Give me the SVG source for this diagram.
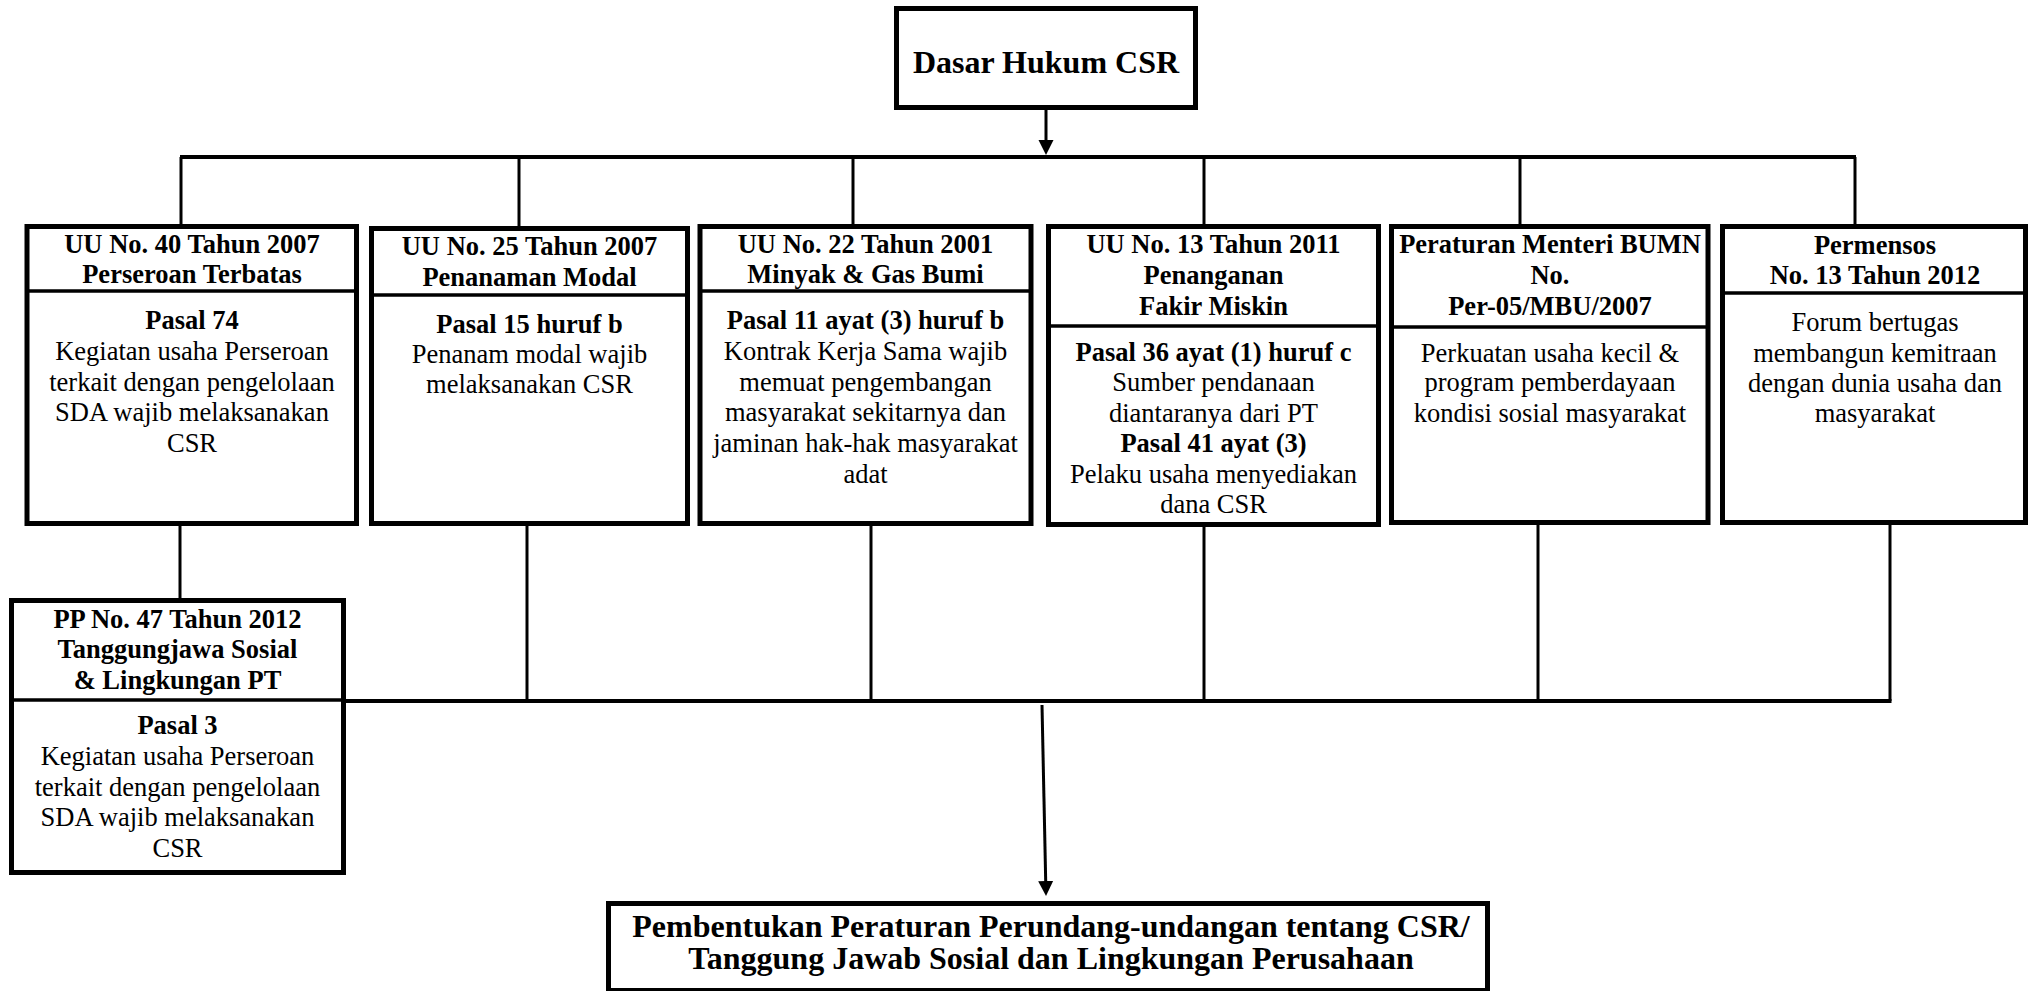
<svg xmlns="http://www.w3.org/2000/svg" width="2028" height="991" viewBox="0 0 2028 991">
<style>
.box{fill:#fff;stroke:#000;stroke-width:5}
.dv{stroke:#000;stroke-width:3.5}
.h{font-family:"Liberation Serif","Times New Roman",serif;font-weight:bold;font-size:26.5px;text-anchor:middle;fill:#000}
.t{font-family:"Liberation Serif","Times New Roman",serif;font-size:26.5px;text-anchor:middle;fill:#000}
.big{font-family:"Liberation Serif","Times New Roman",serif;font-weight:bold;font-size:32px;text-anchor:middle;fill:#000}
.c{stroke:#000;stroke-width:3;fill:none}
.bar{stroke:#000;stroke-width:4;fill:none}
</style>
<defs>
<marker id="ah" markerUnits="userSpaceOnUse" markerWidth="16" markerHeight="16" viewBox="0 0 16 16" refX="5" refY="8" orient="auto">
<path d="M0,0.5 L15,8 L0,15.5 z" fill="#000"/>
</marker>
</defs>
<rect width="2028" height="991" fill="#fff"/>

<g id="connectors">
<line class="c" x1="1046" y1="110" x2="1046" y2="145" marker-end="url(#ah)"/>
<line class="bar" x1="180" y1="157" x2="1856" y2="157"/>
<line class="c" x1="181" y1="157" x2="181" y2="226"/>
<line class="c" x1="519" y1="157" x2="519" y2="228"/>
<line class="c" x1="853" y1="157" x2="853" y2="226"/>
<line class="c" x1="1204" y1="157" x2="1204" y2="226"/>
<line class="c" x1="1520" y1="157" x2="1520" y2="226"/>
<line class="c" x1="1855" y1="157" x2="1855" y2="226"/>
<line class="c" x1="180" y1="524" x2="180" y2="600"/>
<line class="c" x1="527" y1="524" x2="527" y2="701"/>
<line class="c" x1="871" y1="524" x2="871" y2="701"/>
<line class="c" x1="1204" y1="525" x2="1204" y2="701"/>
<line class="c" x1="1538" y1="523" x2="1538" y2="701"/>
<line class="c" x1="1890" y1="523" x2="1890" y2="701"/>
<line class="bar" x1="346" y1="701" x2="1891.5" y2="701"/>
<line class="c" x1="1042" y1="705" x2="1045.8" y2="886" marker-end="url(#ah)"/>
</g>

<g id="top">
<rect class="box" x="896.5" y="8.5" width="299" height="99"/>
<text class="big" x="1046" y="73">Dasar Hukum CSR</text>
</g>

<g id="uu40">
<rect class="box" x="27" y="226.5" width="329.5" height="297"/>
<line class="dv" x1="29" y1="291" x2="356" y2="291"/>
<text class="h" x="192" y="253">UU No. 40 Tahun 2007</text>
<text class="h" x="192" y="283">Perseroan Terbatas</text>
<text class="h" x="192" y="329">Pasal 74</text>
<text class="t" x="192" y="360">Kegiatan usaha Perseroan</text>
<text class="t" x="192" y="391">terkait dengan pengelolaan</text>
<text class="t" x="192" y="421">SDA wajib melaksanakan</text>
<text class="t" x="192" y="452">CSR</text>
</g>

<g id="uu25">
<rect class="box" x="371.5" y="228.5" width="316" height="295"/>
<line class="dv" x1="374" y1="295" x2="687" y2="295"/>
<text class="h" x="529.5" y="255">UU No. 25 Tahun 2007</text>
<text class="h" x="529.5" y="286">Penanaman Modal</text>
<text class="h" x="529.5" y="333">Pasal 15 huruf b</text>
<text class="t" x="529.5" y="363">Penanam modal wajib</text>
<text class="t" x="529.5" y="393">melaksanakan CSR</text>
</g>

<g id="uu22">
<rect class="box" x="700" y="226.5" width="331" height="297"/>
<line class="dv" x1="702" y1="291" x2="1031" y2="291"/>
<text class="h" x="865.5" y="253">UU No. 22 Tahun 2001</text>
<text class="h" x="865.5" y="283">Minyak &amp; Gas Bumi</text>
<text class="h" x="865.5" y="329">Pasal 11 ayat (3) huruf b</text>
<text class="t" x="865.5" y="360">Kontrak Kerja Sama wajib</text>
<text class="t" x="865.5" y="391">memuat pengembangan</text>
<text class="t" x="865.5" y="421">masyarakat sekitarnya dan</text>
<text class="t" x="865.5" y="452">jaminan hak-hak masyarakat</text>
<text class="t" x="865.5" y="483">adat</text>
</g>

<g id="uu13">
<rect class="box" x="1048.5" y="226.5" width="330" height="298"/>
<line class="dv" x1="1051" y1="326" x2="1378" y2="326"/>
<text class="h" x="1213.5" y="253">UU No. 13 Tahun 2011</text>
<text class="h" x="1213.5" y="284">Penanganan</text>
<text class="h" x="1213.5" y="315">Fakir Miskin</text>
<text class="h" x="1213.5" y="361">Pasal 36 ayat (1) huruf c</text>
<text class="t" x="1213.5" y="391">Sumber pendanaan</text>
<text class="t" x="1213.5" y="422">diantaranya dari PT</text>
<text class="h" x="1213.5" y="452">Pasal 41 ayat (3)</text>
<text class="t" x="1213.5" y="483">Pelaku usaha menyediakan</text>
<text class="t" x="1213.5" y="513">dana CSR</text>
</g>

<g id="bumn">
<rect class="box" x="1391.5" y="226.5" width="316.5" height="296"/>
<line class="dv" x1="1394" y1="327" x2="1708" y2="327"/>
<text class="h" x="1550" y="253">Peraturan Menteri BUMN</text>
<text class="h" x="1550" y="284">No.</text>
<text class="h" x="1550" y="315">Per-05/MBU/2007</text>
<text class="t" x="1550" y="362">Perkuatan usaha kecil &amp;</text>
<text class="t" x="1550" y="391">program pemberdayaan</text>
<text class="t" x="1550" y="422">kondisi sosial masyarakat</text>
</g>

<g id="permensos">
<rect class="box" x="1722.5" y="226.5" width="303" height="296"/>
<line class="dv" x1="1725" y1="293" x2="2026" y2="293"/>
<text class="h" x="1875" y="254">Permensos</text>
<text class="h" x="1875" y="284">No. 13 Tahun 2012</text>
<text class="t" x="1875" y="331">Forum bertugas</text>
<text class="t" x="1875" y="362">membangun kemitraan</text>
<text class="t" x="1875" y="392">dengan dunia usaha dan</text>
<text class="t" x="1875" y="422">masyarakat</text>
</g>

<g id="pp47">
<rect class="box" x="11.5" y="600.5" width="332" height="272"/>
<line class="dv" x1="14" y1="700" x2="344" y2="700"/>
<text class="h" x="177.5" y="628">PP No. 47 Tahun 2012</text>
<text class="h" x="177.5" y="658">Tanggungjawa Sosial</text>
<text class="h" x="177.5" y="689">&amp; Lingkungan PT</text>
<text class="h" x="177.5" y="734">Pasal 3</text>
<text class="t" x="177.5" y="765">Kegiatan usaha Perseroan</text>
<text class="t" x="177.5" y="796">terkait dengan pengelolaan</text>
<text class="t" x="177.5" y="826">SDA wajib melaksanakan</text>
<text class="t" x="177.5" y="857">CSR</text>
</g>

<g id="result">
<rect class="box" x="608.5" y="903.5" width="879" height="87"/>
<text class="big" x="1051" y="937">Pembentukan Peraturan Perundang-undangan tentang CSR/</text>
<text class="big" x="1051" y="969">Tanggung Jawab Sosial dan Lingkungan Perusahaan</text>
</g>
</svg>
